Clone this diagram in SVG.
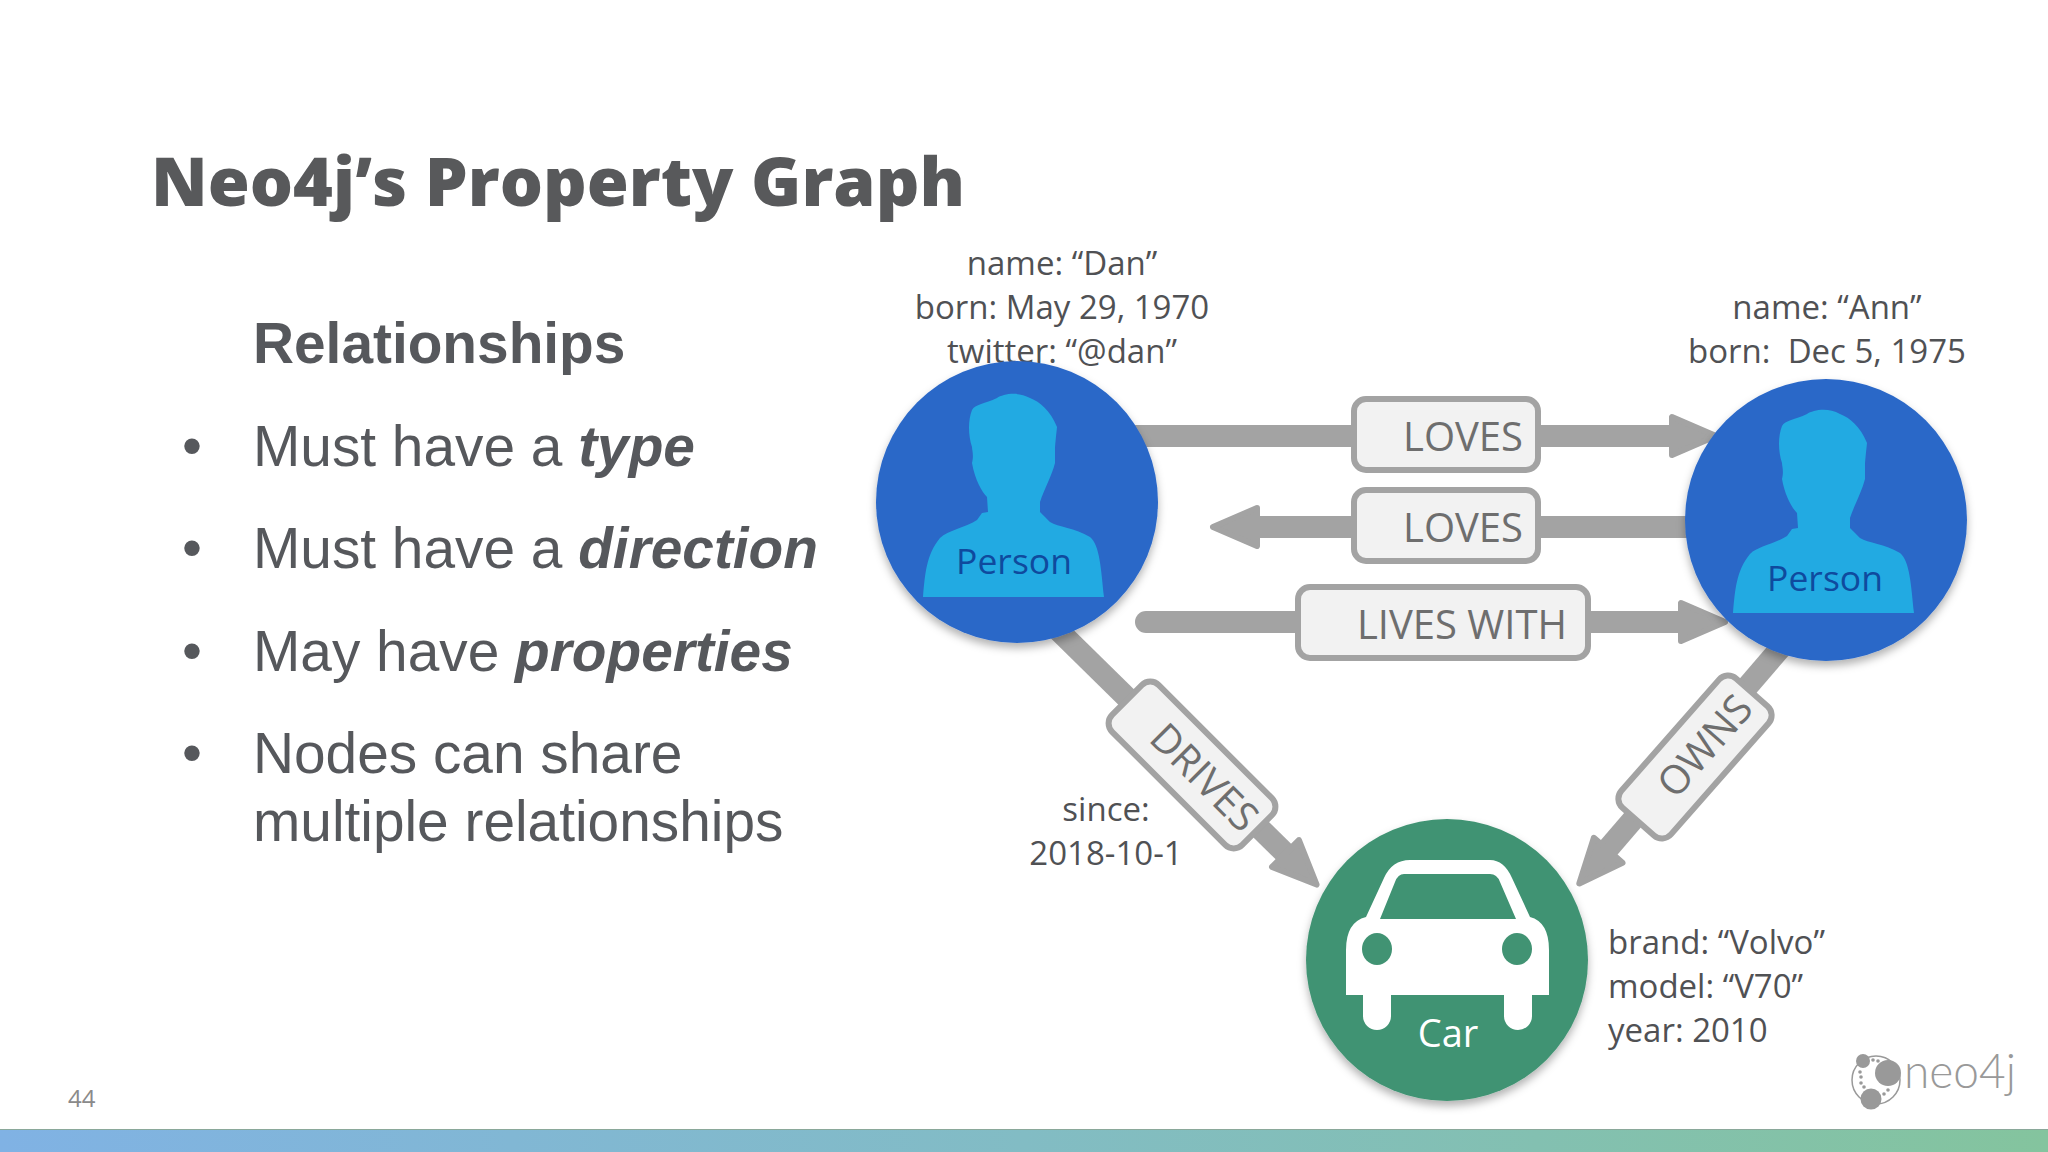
<svg xmlns="http://www.w3.org/2000/svg" width="2048" height="1152" viewBox="0 0 2048 1152">
<defs>
<linearGradient id="bar" x1="0" x2="1" y1="0" y2="0"><stop offset="0" stop-color="#80b2e4"/><stop offset="0.5" stop-color="#82bcc4"/><stop offset="1" stop-color="#84c49e"/></linearGradient>
<filter id="sh" x="-10%" y="-10%" width="120%" height="125%"><feDropShadow dx="0" dy="5" stdDeviation="4" flood-color="#000" flood-opacity="0.3"/></filter>
<path id="person" d="M923 597 C925 575 926 555 940 538 C948 530 965 528 977 520 L982 513 L988 512 L987 497 C982 492 975 480 972 463 C974 455 972 450 972 447 C968 435 968 420 972 410 C975 404 985 404 997 398 C1003 394 1018 391 1030 398 C1040 402 1050 410 1057 427 C1056 437 1055 445 1055 450 L1055 463 C1052 475 1044 490 1040 502 L1040 512 C1044 516 1048 520 1050 522 C1058 527 1075 528 1090 537 C1100 545 1101 570 1104 597 Z" fill="#22aae2"/>
<path id="arrowhead" d="M-2 0 L-46 -19 L-46 19 Z" fill="#a3a3a3" stroke="#a3a3a3" stroke-width="6" stroke-linejoin="round"/>
</defs>
<style>
text{font-family:"Open Sans","Lato",sans-serif}
.prop{font-size:33px;fill:#505154;text-anchor:middle}
.propl{font-size:33px;fill:#505154}
.body{font-family:"Liberation Sans",Arial,sans-serif;font-size:56.8px;fill:#56585c}
.bul{font-family:"Liberation Sans",Arial,sans-serif;font-size:57px;fill:#56585c}
.rel{font-size:40px;fill:#6e6e6e;text-anchor:end}
.lab{fill:#f2f2f2;stroke:#a3a3a3;stroke-width:6}
.line{stroke:#a3a3a3;stroke-width:22;fill:none}
.nt{font-size:35.5px;fill:#0f4a9e;text-anchor:middle}
</style>
<rect width="2048" height="1152" fill="#ffffff"/>
<text x="151" y="206" font-weight="800" font-size="68" fill="#58595b">Neo4j’s Property Graph</text>
<g id="bullets">
<text class="body" x="253" y="363" font-weight="bold">Relationships</text>
<text class="bul" x="182" y="465">•</text><text class="body" x="253" y="466">Must have a <tspan font-weight="bold" font-style="italic">type</tspan></text>
<text class="bul" x="182" y="567">•</text><text class="body" x="253" y="568">Must have a <tspan font-weight="bold" font-style="italic">direction</tspan></text>
<text class="bul" x="182" y="670">•</text><text class="body" x="253" y="671">May have <tspan font-weight="bold" font-style="italic">properties</tspan></text>
<text class="bul" x="182" y="772">•</text><text class="body" x="253" y="773">Nodes can share</text><text class="body" x="253" y="841">multiple relationships</text>
</g>
<g id="props">
<text class="prop" x="1062" y="275">name: “Dan”</text>
<text class="prop" x="1062" y="319">born: May 29, 1970</text>
<text class="prop" x="1062" y="363">twitter: “@dan”</text>
<text class="prop" x="1827" y="319">name: “Ann”</text>
<text class="prop" x="1827" y="363" xml:space="preserve">born:  Dec 5, 1975</text>
<text class="prop" x="1106" y="821">since:</text>
<text class="prop" x="1106" y="865">2018-10-1</text>
<text class="propl" x="1608" y="954">brand: “Volvo”</text>
<text class="propl" x="1608" y="998">model: “V70”</text>
<text class="propl" x="1608" y="1042">year: 2010</text>
</g>
<g id="connectors">
<path class="line" d="M1130 436H1672"/><use href="#arrowhead" transform="translate(1718,436)"/>
<path class="line" d="M1260 527H1700"/><use href="#arrowhead" transform="translate(1211,527) rotate(180)"/>
<path class="line" d="M1146 622H1680" stroke-linecap="round"/><use href="#arrowhead" transform="translate(1727,622)"/>
<path class="line" d="M1058 630L1290 858"/><use href="#arrowhead" transform="translate(1318,886) rotate(45)"/>
<path class="line" d="M1790 637L1600 858"/><use href="#arrowhead" transform="translate(1578,885) rotate(131)"/>
</g>
<g id="labels">
<g id="rel-loves-1"><rect class="lab" x="1354" y="399" width="184" height="71" rx="12"/><text class="rel" x="1523" y="451">LOVES</text></g>
<g id="rel-loves-2"><rect class="lab" x="1354" y="490" width="184" height="71" rx="12"/><text class="rel" x="1523" y="542">LOVES</text></g>
<g id="rel-lives"><rect class="lab" x="1298" y="587" width="290" height="71" rx="12"/><text class="rel" x="1567" y="639">LIVES WITH</text></g>
<g id="rel-drives" transform="translate(1192,765) rotate(45)"><rect class="lab" x="-92" y="-33" width="184" height="66" rx="12"/><text class="rel" x="84" y="14">DRIVES</text></g>
<g id="rel-owns" transform="translate(1695,757) rotate(-48.7)"><rect class="lab" x="-86" y="-33" width="172" height="66" rx="12"/><text class="rel" x="75" y="14">OWNS</text></g>
</g>
<g id="dan"><circle cx="1017" cy="502" r="141" fill="#2b68c8" filter="url(#sh)"/><use href="#person"/><text class="nt" x="1014" y="574">Person</text></g>
<g id="ann"><circle cx="1826" cy="520" r="141" fill="#2b68c8" filter="url(#sh)"/><use href="#person" transform="translate(810,16)"/><text class="nt" x="1825" y="591">Person</text></g>
<g id="car"><circle cx="1447" cy="960" r="141" fill="#419373" filter="url(#sh)"/>
<path fill="#fff" fill-rule="evenodd" d="M1346 995 V950 Q1346 922 1366 917 L1384 878 Q1392 860 1410 860 H1490 Q1504 860 1512 878 L1530 917 Q1549 922 1549 950 V995 H1532 V1016 A14 14 0 0 1 1504 1016 V995 H1391 V1016 A14 14 0 0 1 1363 1016 V995 Z M1380 919 H1516 L1500 882 Q1497 874 1490 874 H1404 Q1398 874 1395 882 Z"/>
<ellipse cx="1377" cy="949" rx="15" ry="16" fill="#419373"/><ellipse cx="1517" cy="949" rx="15" ry="16" fill="#419373"/>
<text x="1448" y="1047" font-size="38" fill="#fff" text-anchor="middle">Car</text></g>
<text x="68" y="1107" font-size="24" fill="#8a8a8a">44</text>
<g id="logo" fill="#999"><circle cx="1876" cy="1080" r="24" fill="none" stroke="#999" stroke-width="1.5"/><circle cx="1863" cy="1061" r="7"/><circle cx="1888" cy="1073" r="13"/><circle cx="1871" cy="1099" r="10.5"/>
<circle cx="1860" cy="1072" r="1.8"/><circle cx="1861" cy="1077" r="1.8"/><circle cx="1861" cy="1083" r="1.8"/><circle cx="1864" cy="1087" r="1.8"/><circle cx="1873" cy="1060" r="1.8"/><circle cx="1878" cy="1061" r="1.8"/><circle cx="1888" cy="1090" r="1.8"/><circle cx="1884" cy="1094" r="1.8"/>
<text x="1904" y="1088" font-size="47" fill="#999" textLength="112" lengthAdjust="spacingAndGlyphs" style="font-weight:300;font-family:'Lato',sans-serif">neo4j</text></g>
<rect y="1130" width="2048" height="22" fill="url(#bar)"/>
<rect y="1129" width="2048" height="1" fill="#8aa89a"/>
</svg>
